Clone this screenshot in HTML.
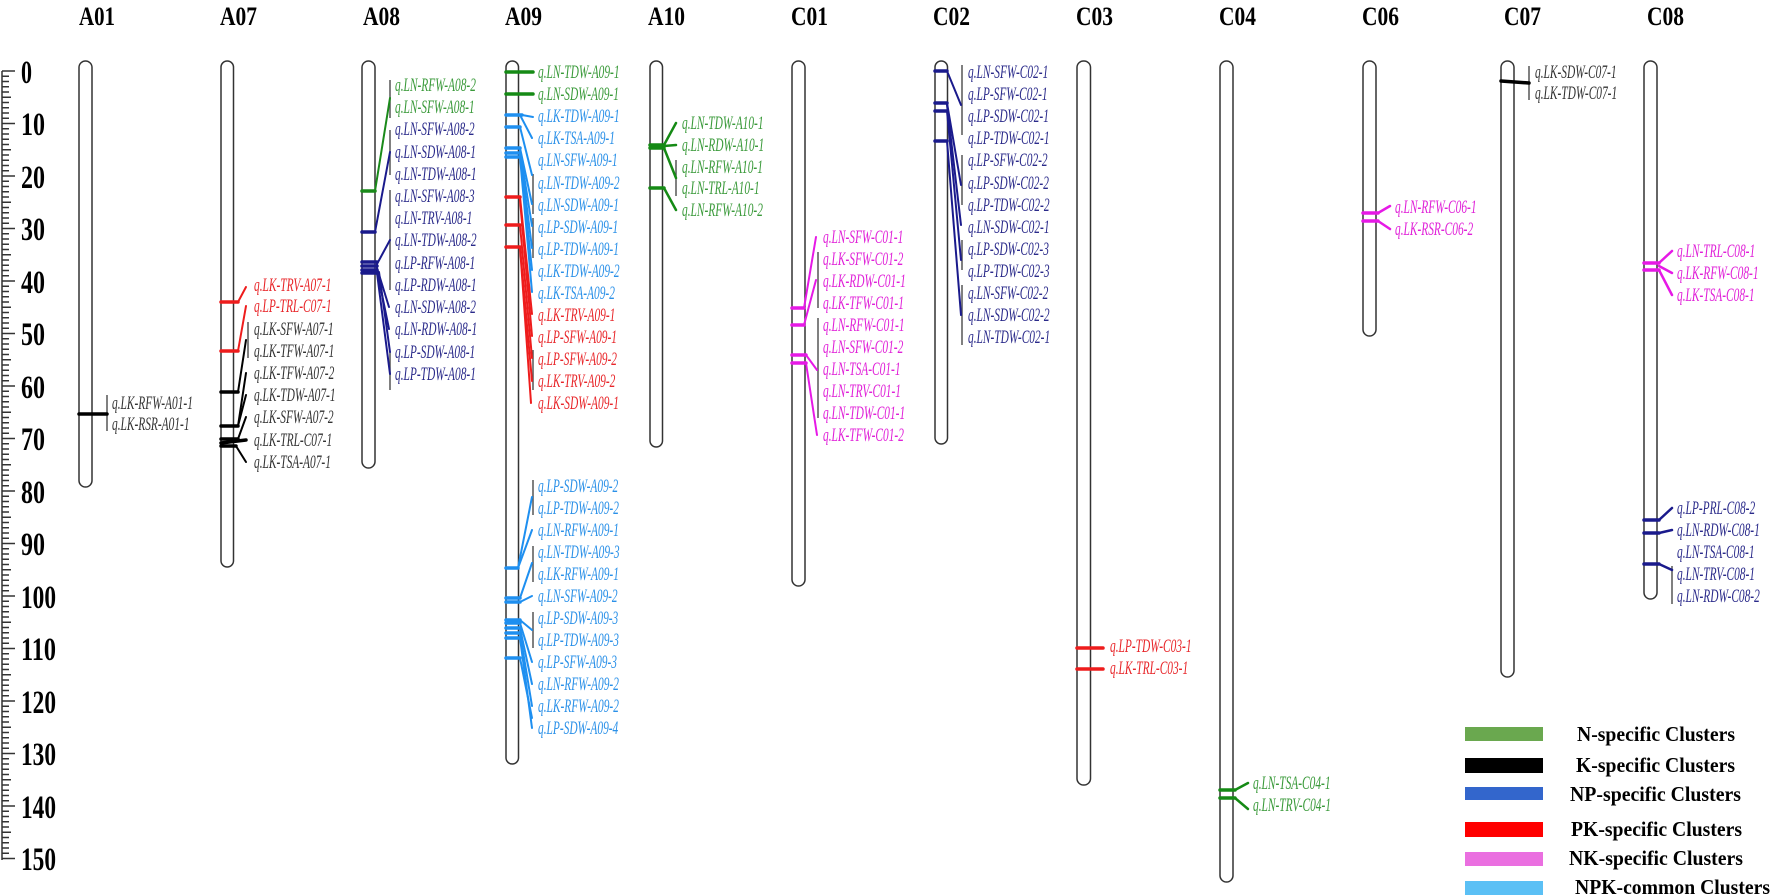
<!DOCTYPE html>
<html><head><meta charset="utf-8"><style>
html,body{margin:0;padding:0;background:#fff;}
svg{display:block;}
.ax{font-family:"Liberation Serif",serif;font-weight:bold;font-size:33px;fill:#000;}
.tt{font-family:"Liberation Serif",serif;font-weight:bold;font-size:26px;fill:#000;}
.lb{font-family:"Liberation Serif",serif;font-style:italic;font-size:19px;}
.lg{font-family:"Liberation Serif",serif;font-weight:bold;font-size:21px;fill:#000;}
.ch{fill:#fff;stroke:#333;stroke-width:1.5;}
.bar{stroke:#555;stroke-width:1.5;}
</style></head><body>
<svg width="1772" height="896" viewBox="0 0 1772 896" xmlns="http://www.w3.org/2000/svg">
<!-- axis -->
<g stroke="#333" stroke-width="1.5">
<line x1="2" y1="71" x2="2" y2="860"/>
<path d="M2 71H15M2 123.5H15M2 176H15M2 228.5H15M2 281H15M2 333.5H15M2 386H15M2 438.5H15M2 491H15M2 543.5H15M2 596H15M2 648.5H15M2 701H15M2 753.5H15M2 806H15M2 858.5H15"/>
<path d="M2 76.25H9M2 81.5H9M2 86.75H9M2 92H9M2 97.25H11M2 102.5H9M2 107.75H9M2 113H9M2 118.25H9
M2 128.75H9M2 134H9M2 139.25H9M2 144.5H9M2 149.75H11M2 155H9M2 160.25H9M2 165.5H9M2 170.75H9
M2 181.25H9M2 186.5H9M2 191.75H9M2 197H9M2 202.25H11M2 207.5H9M2 212.75H9M2 218H9M2 223.25H9
M2 233.75H9M2 239H9M2 244.25H9M2 249.5H9M2 254.75H11M2 260H9M2 265.25H9M2 270.5H9M2 275.75H9
M2 286.25H9M2 291.5H9M2 296.75H9M2 302H9M2 307.25H11M2 312.5H9M2 317.75H9M2 323H9M2 328.25H9
M2 338.75H9M2 344H9M2 349.25H9M2 354.5H9M2 359.75H11M2 365H9M2 370.25H9M2 375.5H9M2 380.75H9
M2 391.25H9M2 396.5H9M2 401.75H9M2 407H9M2 412.25H11M2 417.5H9M2 422.75H9M2 428H9M2 433.25H9
M2 443.75H9M2 449H9M2 454.25H9M2 459.5H9M2 464.75H11M2 470H9M2 475.25H9M2 480.5H9M2 485.75H9
M2 496.25H9M2 501.5H9M2 506.75H9M2 512H9M2 517.25H11M2 522.5H9M2 527.75H9M2 533H9M2 538.25H9
M2 548.75H9M2 554H9M2 559.25H9M2 564.5H9M2 569.75H11M2 575H9M2 580.25H9M2 585.5H9M2 590.75H9
M2 601.25H9M2 606.5H9M2 611.75H9M2 617H9M2 622.25H11M2 627.5H9M2 632.75H9M2 638H9M2 643.25H9
M2 653.75H9M2 659H9M2 664.25H9M2 669.5H9M2 674.75H11M2 680H9M2 685.25H9M2 690.5H9M2 695.75H9
M2 706.25H9M2 711.5H9M2 716.75H9M2 722H9M2 727.25H11M2 732.5H9M2 737.75H9M2 743H9M2 748.25H9
M2 758.75H9M2 764H9M2 769.25H9M2 774.5H9M2 779.75H11M2 785H9M2 790.25H9M2 795.5H9M2 800.75H9
M2 811.25H9M2 816.5H9M2 821.75H9M2 827H9M2 832.25H11M2 837.5H9M2 842.75H9M2 848H9M2 853.25H9"/>
</g>
<g class="ax">
<text x="21" y="83" textLength="11" lengthAdjust="spacingAndGlyphs">0</text>
<text x="21" y="135" textLength="24" lengthAdjust="spacingAndGlyphs">10</text>
<text x="21" y="188" textLength="24" lengthAdjust="spacingAndGlyphs">20</text>
<text x="21" y="240" textLength="24" lengthAdjust="spacingAndGlyphs">30</text>
<text x="21" y="293" textLength="24" lengthAdjust="spacingAndGlyphs">40</text>
<text x="21" y="345" textLength="24" lengthAdjust="spacingAndGlyphs">50</text>
<text x="21" y="398" textLength="24" lengthAdjust="spacingAndGlyphs">60</text>
<text x="21" y="450" textLength="24" lengthAdjust="spacingAndGlyphs">70</text>
<text x="21" y="503" textLength="24" lengthAdjust="spacingAndGlyphs">80</text>
<text x="21" y="555" textLength="24" lengthAdjust="spacingAndGlyphs">90</text>
<text x="21" y="608" textLength="35" lengthAdjust="spacingAndGlyphs">100</text>
<text x="21" y="660" textLength="35" lengthAdjust="spacingAndGlyphs">110</text>
<text x="21" y="713" textLength="35" lengthAdjust="spacingAndGlyphs">120</text>
<text x="21" y="765" textLength="35" lengthAdjust="spacingAndGlyphs">130</text>
<text x="21" y="818" textLength="35" lengthAdjust="spacingAndGlyphs">140</text>
<text x="21" y="870" textLength="35" lengthAdjust="spacingAndGlyphs">150</text>
</g>
<!-- titles -->
<g class="tt">
<text x="79" y="25" textLength="36" lengthAdjust="spacingAndGlyphs">A01</text>
<text x="220" y="25" textLength="37" lengthAdjust="spacingAndGlyphs">A07</text>
<text x="363" y="25" textLength="37" lengthAdjust="spacingAndGlyphs">A08</text>
<text x="505" y="25" textLength="37" lengthAdjust="spacingAndGlyphs">A09</text>
<text x="648" y="25" textLength="37" lengthAdjust="spacingAndGlyphs">A10</text>
<text x="791" y="25" textLength="37" lengthAdjust="spacingAndGlyphs">C01</text>
<text x="933" y="25" textLength="37" lengthAdjust="spacingAndGlyphs">C02</text>
<text x="1076" y="25" textLength="37" lengthAdjust="spacingAndGlyphs">C03</text>
<text x="1219" y="25" textLength="37" lengthAdjust="spacingAndGlyphs">C04</text>
<text x="1362" y="25" textLength="37" lengthAdjust="spacingAndGlyphs">C06</text>
<text x="1504" y="25" textLength="37" lengthAdjust="spacingAndGlyphs">C07</text>
<text x="1647" y="25" textLength="37" lengthAdjust="spacingAndGlyphs">C08</text>
</g>
<!-- chromosomes -->
<rect class="ch" x="79" y="61" width="13" height="426" rx="6.5"/>
<rect class="ch" x="221" y="61" width="12.5" height="506" rx="6.25"/>
<rect class="ch" x="362" y="61" width="13" height="407" rx="6.5"/>
<rect class="ch" x="506" y="61" width="12.5" height="703" rx="6.25"/>
<rect class="ch" x="650" y="61" width="12.5" height="386" rx="6.25"/>
<rect class="ch" x="792" y="61" width="13" height="525" rx="6.5"/>
<rect class="ch" x="935" y="61" width="12.5" height="383" rx="6.25"/>
<rect class="ch" x="1077" y="61" width="13.5" height="724" rx="6.5"/>
<rect class="ch" x="1220" y="61" width="13" height="821" rx="6.5"/>
<rect class="ch" x="1363" y="61" width="13" height="275" rx="6.5"/>
<rect class="ch" x="1501" y="61" width="13" height="616" rx="6.5"/>
<rect class="ch" x="1644" y="61" width="13" height="538" rx="6.5"/>

<!-- bars -->
<g class="bar">
<line x1="107" y1="395" x2="107" y2="431"/>
<line x1="248" y1="322" x2="248" y2="358"/>
<line x1="390" y1="80" x2="390" y2="118"/>
<line x1="390" y1="130" x2="390" y2="175"/>
<line x1="390" y1="190" x2="390" y2="290"/>
<line x1="390" y1="352" x2="390" y2="390"/>
<line x1="533" y1="174" x2="533" y2="214"/>
<line x1="533" y1="218" x2="533" y2="258"/>
<line x1="533" y1="350" x2="533" y2="390"/>
<line x1="533" y1="480" x2="533" y2="515"/>
<line x1="533" y1="546" x2="533" y2="582"/>
<line x1="533" y1="612" x2="533" y2="648"/>
<line x1="676" y1="160" x2="676" y2="196"/>
<line x1="818" y1="252" x2="818" y2="308"/>
<line x1="818" y1="318" x2="818" y2="418"/>
<line x1="962" y1="65" x2="962" y2="135"/>
<line x1="962" y1="155" x2="962" y2="205"/>
<line x1="962" y1="240" x2="962" y2="270"/>
<line x1="962" y1="285" x2="962" y2="345"/>
<line x1="1529" y1="66" x2="1529" y2="100"/>
<line x1="1672" y1="566" x2="1672" y2="604"/>
</g>

<!-- markers and connectors -->
<g fill="none" stroke-linecap="round">
<!-- A01 -->
<g stroke="#000"><line x1="79" y1="414" x2="107" y2="414" stroke-width="3.5"/></g>
<!-- A07 -->
<g stroke="#ee1c1c">
<line x1="221" y1="302" x2="238" y2="302" stroke-width="3.5"/><line x1="238" y1="302" x2="246" y2="287" stroke-width="2"/>
<line x1="221" y1="351" x2="238" y2="351" stroke-width="3.5"/><line x1="238" y1="351" x2="246" y2="306" stroke-width="2"/>
</g>
<g stroke="#000" stroke-width="2">
<line x1="221" y1="392" x2="238" y2="392" stroke-width="3.5"/><line x1="238" y1="392" x2="246" y2="340"/>
<line x1="221" y1="426" x2="238" y2="426" stroke-width="3.5"/><line x1="238" y1="426" x2="246" y2="373"/><line x1="238" y1="426" x2="246" y2="395"/>
<line x1="221" y1="439" x2="238" y2="439" stroke-width="3.5"/><line x1="238" y1="439" x2="246" y2="417"/>
<line x1="221" y1="443" x2="246" y2="440" stroke-width="3.5"/>
<line x1="221" y1="446" x2="236" y2="446" stroke-width="3.5"/><line x1="236" y1="446" x2="246" y2="462"/>
</g>
<!-- A08 -->
<g stroke="#1a8a1a"><line x1="362" y1="191" x2="375" y2="191" stroke-width="3.5"/><line x1="375" y1="191" x2="390" y2="98" stroke-width="2"/></g>
<g stroke="#1a1a8c" stroke-width="2">
<line x1="362" y1="232" x2="375" y2="232" stroke-width="3.5"/><line x1="375" y1="232" x2="390" y2="152"/>
<path d="M362 262H377M362 266H377M362 270H377M362 273H377" stroke-width="3.5"/>
<line x1="377" y1="264" x2="390" y2="240"/><line x1="377" y1="268" x2="389" y2="307"/><line x1="377" y1="270" x2="389" y2="329"/><line x1="377" y1="273" x2="390" y2="374"/><line x1="379" y1="272" x2="390" y2="352"/>
</g>
<!-- A09 upper -->
<g stroke="#158a15"><path d="M506 72H533M506 94H533" stroke-width="3.5"/></g>
<g stroke="#1e8ff0" stroke-width="2">
<path d="M506 115H522M506 127H520M506 148H520M506 153H520M506 157H520" stroke-width="3.5"/>
<line x1="522" y1="115" x2="533" y2="117"/><line x1="520" y1="115" x2="532" y2="138"/><line x1="520" y1="127" x2="532" y2="175"/>
<line x1="520" y1="148" x2="532" y2="204"/><line x1="520" y1="153" x2="532" y2="248"/><line x1="520" y1="155" x2="532" y2="270"/><line x1="520" y1="157" x2="532" y2="292"/><line x1="520" y1="150" x2="532" y2="226"/>
</g>
<g stroke="#ee1c1c" stroke-width="2">
<path d="M506 197H520M506 225H520M506 247H520" stroke-width="3.5"/>
<line x1="520" y1="197" x2="532" y2="314"/><line x1="520" y1="200" x2="532" y2="336"/><line x1="520" y1="225" x2="532" y2="358"/><line x1="520" y1="247" x2="532" y2="381"/><line x1="520" y1="247" x2="531" y2="403"/>
</g>
<!-- A09 lower -->
<g stroke="#1e8ff0" stroke-width="2">
<path d="M506 568H518M506 598H520M506 602H520M506 620H520M506 623H520M506 628H520M506 633H520M506 638H520M506 658H520" stroke-width="3.5"/>
<line x1="518" y1="568" x2="532" y2="497"/><line x1="518" y1="568" x2="532" y2="530"/><line x1="520" y1="598" x2="532" y2="563"/><line x1="520" y1="602" x2="532" y2="596"/>
<line x1="520" y1="620" x2="532" y2="630"/><line x1="520" y1="623" x2="532" y2="662"/><line x1="520" y1="628" x2="532" y2="684"/><line x1="520" y1="633" x2="532" y2="706"/><line x1="520" y1="638" x2="532" y2="728"/><line x1="520" y1="658" x2="532" y2="718"/>
</g>
<!-- A10 -->
<g stroke="#158a15" stroke-width="2.5">
<path d="M650 145H664M650 148H664M650 188H664" stroke-width="3.5"/>
<line x1="664" y1="145" x2="676" y2="123"/><line x1="664" y1="146" x2="676" y2="145"/><line x1="664" y1="148" x2="676" y2="178"/><line x1="664" y1="188" x2="676" y2="210"/>
</g>
<!-- C01 -->
<g stroke="#e619e6" stroke-width="2">
<path d="M792 308H804M792 325H804M792 355H806M792 363H806" stroke-width="3.5"/>
<line x1="804" y1="308" x2="816" y2="237"/><line x1="804" y1="325" x2="816" y2="280"/><line x1="806" y1="355" x2="817" y2="370"/><line x1="806" y1="363" x2="817" y2="435"/>
</g>
<!-- C02 -->
<g stroke="#1a1a8c" stroke-width="2">
<path d="M935 71H947M935 103H947M935 111H947M935 141H947" stroke-width="3.5"/>
<line x1="947" y1="71" x2="961" y2="105"/><line x1="947" y1="103" x2="961" y2="185"/><line x1="947" y1="105" x2="961" y2="225"/><line x1="947" y1="111" x2="961" y2="260"/><line x1="947" y1="141" x2="961" y2="315"/>
</g>
<!-- C03 -->
<g stroke="#ee1c1c" stroke-width="3.5"><path d="M1077 648H1103M1077 669H1103"/></g>
<!-- C04 -->
<g stroke="#158a15" stroke-width="2.5">
<path d="M1220 790H1235M1220 798H1235" stroke-width="3.5"/>
<line x1="1235" y1="790" x2="1248" y2="783"/><line x1="1235" y1="798" x2="1248" y2="809"/>
</g>
<!-- C06 -->
<g stroke="#e619e6" stroke-width="2.5">
<path d="M1363 213H1378M1363 221H1378" stroke-width="3.5"/>
<line x1="1378" y1="213" x2="1390" y2="206"/><line x1="1378" y1="221" x2="1390" y2="229"/>
</g>
<!-- C07 -->
<g stroke="#000"><line x1="1501" y1="81" x2="1529" y2="83" stroke-width="3.5"/></g>
<!-- C08 -->
<g stroke="#e619e6" stroke-width="2.5">
<path d="M1644 263H1659M1644 270H1659" stroke-width="3.5"/>
<line x1="1659" y1="263" x2="1672" y2="251"/><line x1="1659" y1="266" x2="1672" y2="273"/><line x1="1659" y1="270" x2="1672" y2="295"/>
</g>
<g stroke="#1a1a8c" stroke-width="2.5">
<path d="M1644 520H1659M1644 533H1659M1644 564H1659" stroke-width="3.5"/>
<line x1="1659" y1="520" x2="1672" y2="508"/><line x1="1659" y1="533" x2="1672" y2="530"/><line x1="1659" y1="564" x2="1672" y2="570"/>
</g>
</g>

<!-- labels -->
<g class="lb">
<!-- A01 -->
<g fill="#333" transform="translate(112,0) scale(0.6,1)">
<text x="0" y="409">q.LK-RFW-A01-1</text><text x="0" y="430">q.LK-RSR-A01-1</text>
</g>
<!-- A07 -->
<g transform="translate(254,0) scale(0.6,1)">
<text fill="#e8262a" x="0" y="291">q.LK-TRV-A07-1</text>
<text fill="#e8262a" x="0" y="312">q.LP-TRL-C07-1</text>
<g fill="#333">
<text x="0" y="335">q.LK-SFW-A07-1</text><text x="0" y="357">q.LK-TFW-A07-1</text><text x="0" y="379">q.LK-TFW-A07-2</text>
<text x="0" y="401">q.LK-TDW-A07-1</text><text x="0" y="423">q.LK-SFW-A07-2</text><text x="0" y="446">q.LK-TRL-C07-1</text><text x="0" y="468">q.LK-TSA-A07-1</text>
</g></g>
<!-- A08 -->
<g transform="translate(395,0) scale(0.6,1)">
<text fill="#3a9a3a" x="0" y="91">q.LN-RFW-A08-2</text>
<text fill="#3a9a3a" x="0" y="113">q.LN-SFW-A08-1</text>
<g fill="#2a2a8a">
<text x="0" y="135">q.LN-SFW-A08-2</text><text x="0" y="158">q.LN-SDW-A08-1</text><text x="0" y="180">q.LN-TDW-A08-1</text>
<text x="0" y="202">q.LN-SFW-A08-3</text><text x="0" y="224">q.LN-TRV-A08-1</text><text x="0" y="246">q.LN-TDW-A08-2</text>
<text x="0" y="269">q.LP-RFW-A08-1</text><text x="0" y="291">q.LP-RDW-A08-1</text><text x="0" y="313">q.LN-SDW-A08-2</text>
<text x="0" y="335">q.LN-RDW-A08-1</text><text x="0" y="358">q.LP-SDW-A08-1</text><text x="0" y="380">q.LP-TDW-A08-1</text>
</g></g>
<!-- A09 -->
<g transform="translate(538,0) scale(0.6,1)">
<text fill="#3a9a3a" x="0" y="78">q.LN-TDW-A09-1</text>
<text fill="#3a9a3a" x="0" y="100">q.LN-SDW-A09-1</text>
<g fill="#2a90e8">
<text x="0" y="122">q.LK-TDW-A09-1</text><text x="0" y="144">q.LK-TSA-A09-1</text><text x="0" y="166">q.LN-SFW-A09-1</text>
<text x="0" y="189">q.LN-TDW-A09-2</text><text x="0" y="211">q.LN-SDW-A09-1</text><text x="0" y="233">q.LP-SDW-A09-1</text>
<text x="0" y="255">q.LP-TDW-A09-1</text><text x="0" y="277">q.LK-TDW-A09-2</text><text x="0" y="299">q.LK-TSA-A09-2</text>
</g>
<g fill="#e8262a">
<text x="0" y="321">q.LK-TRV-A09-1</text><text x="0" y="343">q.LP-SFW-A09-1</text><text x="0" y="365">q.LP-SFW-A09-2</text>
<text x="0" y="387">q.LK-TRV-A09-2</text><text x="0" y="409">q.LK-SDW-A09-1</text>
</g>
<g fill="#2a90e8">
<text x="0" y="492">q.LP-SDW-A09-2</text><text x="0" y="514">q.LP-TDW-A09-2</text><text x="0" y="536">q.LN-RFW-A09-1</text>
<text x="0" y="558">q.LN-TDW-A09-3</text><text x="0" y="580">q.LK-RFW-A09-1</text><text x="0" y="602">q.LN-SFW-A09-2</text>
<text x="0" y="624">q.LP-SDW-A09-3</text><text x="0" y="646">q.LP-TDW-A09-3</text><text x="0" y="668">q.LP-SFW-A09-3</text>
<text x="0" y="690">q.LN-RFW-A09-2</text><text x="0" y="712">q.LK-RFW-A09-2</text><text x="0" y="734">q.LP-SDW-A09-4</text>
</g></g>
<!-- A10 -->
<g fill="#3a9a3a" transform="translate(682,0) scale(0.6,1)">
<text x="0" y="129">q.LN-TDW-A10-1</text><text x="0" y="151">q.LN-RDW-A10-1</text><text x="0" y="173">q.LN-RFW-A10-1</text>
<text x="0" y="194">q.LN-TRL-A10-1</text><text x="0" y="216">q.LN-RFW-A10-2</text>
</g>
<!-- C01 -->
<g fill="#e020d8" transform="translate(823,0) scale(0.6,1)">
<text x="0" y="243">q.LN-SFW-C01-1</text><text x="0" y="265">q.LK-SFW-C01-2</text><text x="0" y="287">q.LK-RDW-C01-1</text>
<text x="0" y="309">q.LK-TFW-C01-1</text><text x="0" y="331">q.LN-RFW-C01-1</text><text x="0" y="353">q.LN-SFW-C01-2</text>
<text x="0" y="375">q.LN-TSA-C01-1</text><text x="0" y="397">q.LN-TRV-C01-1</text><text x="0" y="419">q.LN-TDW-C01-1</text>
<text x="0" y="441">q.LK-TFW-C01-2</text>
</g>
<!-- C02 -->
<g fill="#2a2a8a" transform="translate(968,0) scale(0.6,1)">
<text x="0" y="78">q.LN-SFW-C02-1</text><text x="0" y="100">q.LP-SFW-C02-1</text><text x="0" y="122">q.LP-SDW-C02-1</text>
<text x="0" y="144">q.LP-TDW-C02-1</text><text x="0" y="166">q.LP-SFW-C02-2</text><text x="0" y="189">q.LP-SDW-C02-2</text>
<text x="0" y="211">q.LP-TDW-C02-2</text><text x="0" y="233">q.LN-SDW-C02-1</text><text x="0" y="255">q.LP-SDW-C02-3</text>
<text x="0" y="277">q.LP-TDW-C02-3</text><text x="0" y="299">q.LN-SFW-C02-2</text><text x="0" y="321">q.LN-SDW-C02-2</text>
<text x="0" y="343">q.LN-TDW-C02-1</text>
</g>
<!-- C03 -->
<g fill="#e8262a" transform="translate(1110,0) scale(0.6,1)">
<text x="0" y="652">q.LP-TDW-C03-1</text><text x="0" y="674">q.LK-TRL-C03-1</text>
</g>
<!-- C04 -->
<g fill="#3a9a3a" transform="translate(1253,0) scale(0.6,1)">
<text x="0" y="789">q.LN-TSA-C04-1</text><text x="0" y="811">q.LN-TRV-C04-1</text>
</g>
<!-- C06 -->
<g fill="#e020d8" transform="translate(1395,0) scale(0.6,1)">
<text x="0" y="213">q.LN-RFW-C06-1</text><text x="0" y="235">q.LK-RSR-C06-2</text>
</g>
<!-- C07 -->
<g fill="#333" transform="translate(1535,0) scale(0.6,1)">
<text x="0" y="78">q.LK-SDW-C07-1</text><text x="0" y="99">q.LK-TDW-C07-1</text>
</g>
<!-- C08 -->
<g transform="translate(1677,0) scale(0.6,1)">
<g fill="#e020d8">
<text x="0" y="257">q.LN-TRL-C08-1</text><text x="0" y="279">q.LK-RFW-C08-1</text><text x="0" y="301">q.LK-TSA-C08-1</text>
</g>
<g fill="#2a2a8a">
<text x="0" y="514">q.LP-PRL-C08-2</text><text x="0" y="536">q.LN-RDW-C08-1</text><text x="0" y="558">q.LN-TSA-C08-1</text>
<text x="0" y="580">q.LN-TRV-C08-1</text><text x="0" y="602">q.LN-RDW-C08-2</text>
</g></g>
</g>

<!-- legend -->
<rect x="1465" y="727" width="78" height="14" fill="#6aa84f"/>
<rect x="1465" y="758" width="78" height="15" fill="#000"/>
<rect x="1465" y="787" width="78" height="13" fill="#3366cc"/>
<rect x="1465" y="822" width="78" height="15" fill="#ff0000"/>
<rect x="1465" y="852" width="78" height="14" fill="#ea6fe0"/>
<rect x="1465" y="881" width="78" height="14" fill="#5bc0f5"/>
<g class="lg">
<text x="1577" y="741" textLength="158" lengthAdjust="spacingAndGlyphs">N-specific Clusters</text>
<text x="1576" y="772" textLength="159" lengthAdjust="spacingAndGlyphs">K-specific Clusters</text>
<text x="1570" y="801" textLength="171" lengthAdjust="spacingAndGlyphs">NP-specific Clusters</text>
<text x="1571" y="836" textLength="171" lengthAdjust="spacingAndGlyphs">PK-specific Clusters</text>
<text x="1569" y="865" textLength="174" lengthAdjust="spacingAndGlyphs">NK-specific Clusters</text>
<text x="1575" y="894" textLength="195" lengthAdjust="spacingAndGlyphs">NPK-common Clusters</text>
</g>
</svg>
</body></html>
